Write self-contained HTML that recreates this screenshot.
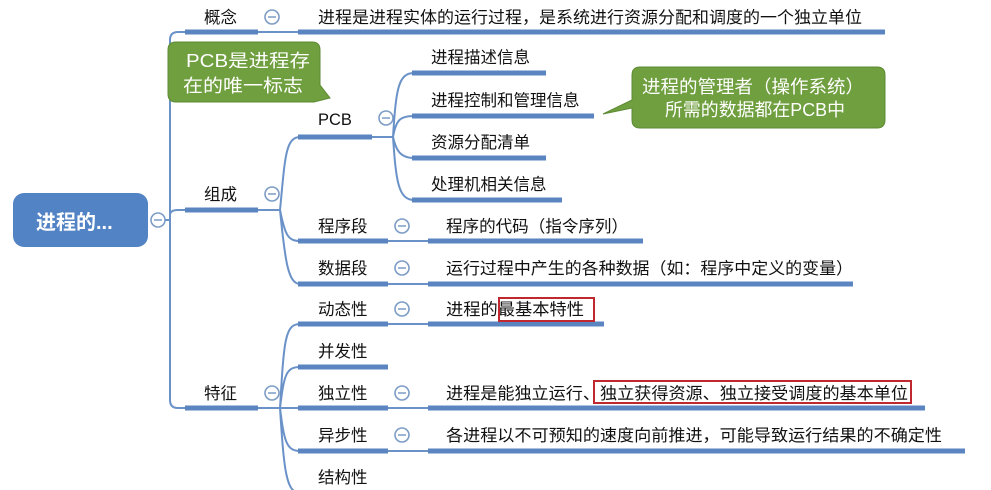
<!DOCTYPE html>
<html><head><meta charset="utf-8"><style>
html,body{margin:0;padding:0;background:#fff;width:991px;height:490px;overflow:hidden}
svg{display:block}
text{font-family:"Liberation Sans","Noto Sans CJK SC",sans-serif;font-size:16.5px;fill:#111}
.b{stroke:#5a85c0;stroke-width:5;fill:none}
.t{stroke:#6a92c8;stroke-width:2;fill:none}
.c{fill:#fff;stroke:#7c9cc6;stroke-width:1.6}
.w{fill:#fff;font-size:18px}
</style></head><body>
<svg width="991" height="490" viewBox="0 0 991 490">
<rect x="13" y="193" width="135" height="54" rx="11" fill="#5283c4"/>
<text x="36" y="229" style="fill:#fff;font-size:20px;font-weight:bold">进程的...</text>
<circle class="c" cx="158" cy="220" r="7"/><line x1="154" y1="220" x2="162" y2="220" stroke="#7c9cc6" stroke-width="1.5"/>
<path class="t" d="M165 220 H170 M178 32 Q170 32 170 40 V400 Q170 408 178 408 M170 215 Q170 210 178 210"/>
<line class="b" x1="185" y1="32" x2="258" y2="32"/>
<line class="b" x1="185" y1="210" x2="258" y2="210"/>
<line class="b" x1="185" y1="408" x2="258" y2="408"/>
<line class="t" x1="178" y1="32" x2="185" y2="32"/><line class="t" x1="178" y1="210" x2="185" y2="210"/><line class="t" x1="178" y1="408" x2="185" y2="408"/>
<text x="204" y="23">概念</text><text x="204" y="200">组成</text><text x="204" y="399">特征</text>
<g class="c"><circle cx="272" cy="17" r="7"/><circle cx="272" cy="194" r="7"/><circle cx="272" cy="393" r="7"/></g>
<g stroke="#7c9cc6" stroke-width="1.5"><line x1="268" y1="17" x2="276" y2="17"/><line x1="268" y1="194" x2="276" y2="194"/><line x1="268" y1="393" x2="276" y2="393"/></g>
<line class="t" x1="258" y1="32" x2="298" y2="32"/>
<line class="b" x1="298" y1="32" x2="885" y2="32"/>
<text x="318" y="23" textLength="544" lengthAdjust="spacingAndGlyphs">进程是进程实体的运行过程，是系统进行资源分配和调度的一个独立单位</text>
<path class="t" d="M258 210 H280 M280 210 C285 160 285 137 300 137 M280 210 C285 235 288 241 300 241 M280 210 C285 260 288 284 300 284"/>
<line class="b" x1="298" y1="137" x2="372" y2="137"/>
<line class="b" x1="298" y1="241" x2="388" y2="241"/>
<line class="b" x1="298" y1="284" x2="388" y2="284"/>
<text x="318" y="125">PCB</text><text x="318" y="232">程序段</text><text x="318" y="274">数据段</text>
<g class="c"><circle cx="386" cy="118" r="7"/><circle cx="402" cy="226" r="7"/><circle cx="402" cy="268" r="7"/></g>
<g stroke="#7c9cc6" stroke-width="1.5"><line x1="382" y1="118" x2="390" y2="118"/><line x1="398" y1="226" x2="406" y2="226"/><line x1="398" y1="268" x2="406" y2="268"/></g>
<path class="t" d="M372 137 H393 M393 137 C396 90 398 73 414 73 M393 137 C396 120 400 116 414 116 M393 137 C396 150 400 158 414 158 M393 137 C396 180 398 200 414 200"/>
<line class="b" x1="412" y1="73" x2="546" y2="73"/>
<line class="b" x1="412" y1="116" x2="594" y2="116"/>
<line class="b" x1="412" y1="158" x2="546" y2="158"/>
<line class="b" x1="412" y1="200" x2="562" y2="200"/>
<text x="431" y="63">进程描述信息</text><text x="431" y="106">进程控制和管理信息</text><text x="431" y="148">资源分配清单</text><text x="431" y="190">处理机相关信息</text>
<line class="t" x1="388" y1="241" x2="428" y2="241"/><line class="b" x1="428" y1="241" x2="643" y2="241"/>
<text x="446" y="232" textLength="182" lengthAdjust="spacingAndGlyphs">程序的代码（指令序列）</text>
<line class="t" x1="388" y1="284" x2="428" y2="284"/><line class="b" x1="428" y1="284" x2="853" y2="284"/>
<text x="446" y="274" textLength="407" lengthAdjust="spacingAndGlyphs">运行过程中产生的各种数据（如：程序中定义的变量）</text>
<path class="t" d="M258 408 H280 M280 408 C284 340 285 324 300 324 M280 408 C284 375 286 367 300 367 M280 408 H300 M280 408 C284 440 286 451 300 451 M280 408 C284 470 286 493 300 493"/>
<line class="b" x1="298" y1="324" x2="388" y2="324"/>
<line class="b" x1="298" y1="367" x2="388" y2="367"/>
<line class="b" x1="298" y1="408" x2="388" y2="408"/>
<line class="b" x1="298" y1="451" x2="388" y2="451"/>
<line class="b" x1="298" y1="493" x2="388" y2="493"/>
<text x="318" y="315">动态性</text><text x="318" y="357">并发性</text><text x="318" y="399">独立性</text><text x="318" y="441">异步性</text><text x="318" y="483">结构性</text>
<g class="c"><circle cx="402" cy="309" r="7"/><circle cx="402" cy="393" r="7"/><circle cx="402" cy="435" r="7"/></g>
<g stroke="#7c9cc6" stroke-width="1.5"><line x1="398" y1="309" x2="406" y2="309"/><line x1="398" y1="393" x2="406" y2="393"/><line x1="398" y1="435" x2="406" y2="435"/></g>
<line class="t" x1="388" y1="324" x2="428" y2="324"/><line class="b" x1="428" y1="324" x2="604" y2="324"/>
<line class="t" x1="388" y1="408" x2="428" y2="408"/><line class="b" x1="428" y1="408" x2="925" y2="408"/>
<line class="t" x1="388" y1="451" x2="428" y2="451"/><line class="b" x1="428" y1="451" x2="965" y2="451"/>
<text x="446" y="315" textLength="138" lengthAdjust="spacingAndGlyphs">进程的最基本特性</text>
<rect x="499" y="298" width="95" height="23" fill="none" stroke="#c0282f" stroke-width="2"/>
<text x="446" y="399" textLength="462" lengthAdjust="spacingAndGlyphs">进程是能独立运行、独立获得资源、独立接受调度的基本单位</text>
<rect x="594" y="381" width="317" height="22" fill="none" stroke="#c0282f" stroke-width="2"/>
<text x="446" y="441" textLength="496" lengthAdjust="spacingAndGlyphs">各进程以不可预知的速度向前推进，可能导致运行结果的不确定性</text>
<path d="M176 42 H312 Q320 42 320 50 V85 L330 98 L314 102 H176 Q168 102 168 94 V50 Q168 42 176 42 Z" fill="#6f9f3e" stroke="#5e8a34"/>
<text x="186" y="67" class="w" textLength="124" lengthAdjust="spacingAndGlyphs">PCB是进程存</text>
<text x="183" y="92" class="w" textLength="120" lengthAdjust="spacingAndGlyphs">在的唯一标志</text>
<path d="M640 67 H877 Q885 67 885 75 V120 Q885 128 877 128 H640 Q632 128 632 120 V108 L603 114 L632 100 V75 Q632 67 640 67 Z" fill="#6f9f3e" stroke="#5e8a34"/>
<text x="642" y="93" class="w" textLength="222" lengthAdjust="spacingAndGlyphs">进程的管理者（操作系统）</text>
<text x="665" y="116" class="w" textLength="180" lengthAdjust="spacingAndGlyphs">所需的数据都在PCB中</text>
</svg>
</body></html>
